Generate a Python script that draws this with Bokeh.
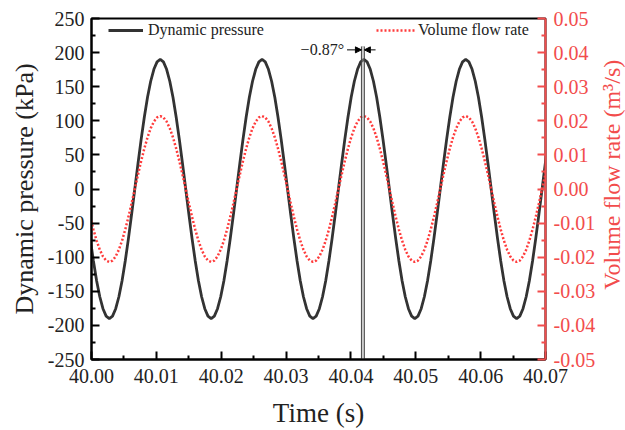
import math
from bokeh.plotting import figure
from bokeh.layouts import row
from bokeh.models import (Range1d, LinearAxis, Legend, LegendItem, Label,
                          Arrow, NormalHead, FixedTicker)
from bokeh.core.properties import value
from bokeh.embed import file_html
from bokeh.resources import INLINE

# ---- data -----------------------------------------------------------------
time_s = [
    39.999806, 40.000297, 40.000788, 40.001278, 40.001769, 40.002259, 40.002750, 40.003241,
    40.003731, 40.004222, 40.004713, 40.005203, 40.005694, 40.006184, 40.006675, 40.007166,
    40.007656, 40.008147, 40.008638, 40.009128, 40.009619, 40.010109, 40.010600, 40.011091,
    40.011581, 40.012072, 40.012563, 40.013053, 40.013544, 40.014034, 40.014525, 40.015016,
    40.015506, 40.015997, 40.016488, 40.016978, 40.017469, 40.017959, 40.018450, 40.018941,
    40.019431, 40.019922, 40.020413, 40.020903, 40.021394, 40.021884, 40.022375, 40.022866,
    40.023356, 40.023847, 40.024338, 40.024828, 40.025319, 40.025809, 40.026300, 40.026791,
    40.027281, 40.027772, 40.028263, 40.028753, 40.029244, 40.029734, 40.030225, 40.030716,
    40.031206, 40.031697, 40.032188, 40.032678, 40.033169, 40.033659, 40.034150, 40.034641,
    40.035131, 40.035622, 40.036113, 40.036603, 40.037094, 40.037584, 40.038075, 40.038566,
    40.039056, 40.039547, 40.040038, 40.040528, 40.041019, 40.041509, 40.042000, 40.042491,
    40.042981, 40.043472, 40.043963, 40.044453, 40.044944, 40.045434, 40.045925, 40.046416,
    40.046906, 40.047397, 40.047888, 40.048378, 40.048869, 40.049359, 40.049850, 40.050341,
    40.050831, 40.051322, 40.051813, 40.052303, 40.052794, 40.053284, 40.053775, 40.054266,
    40.054756, 40.055247, 40.055738, 40.056228, 40.056719, 40.057209, 40.057700, 40.058191,
    40.058681, 40.059172, 40.059663, 40.060153, 40.060644, 40.061134, 40.061625, 40.062116,
    40.062606, 40.063097, 40.063588, 40.064078, 40.064569, 40.065059, 40.065550, 40.066041,
    40.066531, 40.067022, 40.067513, 40.068003, 40.068494, 40.068984, 40.069475, 40.069966,
    40.070456,
]

pressure_kpa = [
    -72.7, -105.6, -134.4, -158.0, -175.5, -186.4,
    -190.0, -186.4, -175.5, -158.0, -134.4, -105.6, -72.7, -37.1, 0.0, 37.1, 72.7, 105.6,
    134.4, 158.0, 175.5, 186.4, 190.0, 186.4, 175.5, 158.0, 134.4, 105.6, 72.7, 37.1,
    0.0, -37.1, -72.7, -105.6, -134.4, -158.0, -175.5, -186.4,
    -190.0, -186.4, -175.5, -158.0, -134.4, -105.6, -72.7, -37.1, 0.0, 37.1, 72.7, 105.6,
    134.4, 158.0, 175.5, 186.4, 190.0, 186.4, 175.5, 158.0, 134.4, 105.6, 72.7, 37.1,
    0.0, -37.1, -72.7, -105.6, -134.4, -158.0, -175.5, -186.4,
    -190.0, -186.4, -175.5, -158.0, -134.4, -105.6, -72.7, -37.1, 0.0, 37.1, 72.7, 105.6,
    134.4, 158.0, 175.5, 186.4, 190.0, 186.4, 175.5, 158.0, 134.4, 105.6, 72.7, 37.1,
    0.0, -37.1, -72.7, -105.6, -134.4, -158.0, -175.5, -186.4,
    -190.0, -186.4, -175.5, -158.0, -134.4, -105.6, -72.7, -37.1, 0.0, 37.1, 72.7, 105.6,
    134.4, 158.0, 175.5, 186.4, 190.0, 186.4, 175.5, 158.0, 134.4, 105.6, 72.7, 37.1,
    0.0, -37.1, -72.7, -105.6, -134.4, -158.0, -175.5, -186.4,
    -190.0, -186.4, -175.5, -158.0, -134.4, -105.6, -72.7, -37.1, 0.0, 37.1, 72.7,
]

flow_m3s = [
    -0.00819, -0.01189, -0.01513, -0.01779, -0.01977, -0.02099,
    -0.02140, -0.02099, -0.01977, -0.01779, -0.01513, -0.01189, -0.00819, -0.00418, 0.0, 0.00418, 0.00819, 0.01189,
    0.01513, 0.01779, 0.01977, 0.02099, 0.02140, 0.02099, 0.01977, 0.01779, 0.01513, 0.01189, 0.00819, 0.00418,
    0.0, -0.00418, -0.00819, -0.01189, -0.01513, -0.01779, -0.01977, -0.02099,
    -0.02140, -0.02099, -0.01977, -0.01779, -0.01513, -0.01189, -0.00819, -0.00418, 0.0, 0.00418, 0.00819, 0.01189,
    0.01513, 0.01779, 0.01977, 0.02099, 0.02140, 0.02099, 0.01977, 0.01779, 0.01513, 0.01189, 0.00819, 0.00418,
    0.0, -0.00418, -0.00819, -0.01189, -0.01513, -0.01779, -0.01977, -0.02099,
    -0.02140, -0.02099, -0.01977, -0.01779, -0.01513, -0.01189, -0.00819, -0.00418, 0.0, 0.00418, 0.00819, 0.01189,
    0.01513, 0.01779, 0.01977, 0.02099, 0.02140, 0.02099, 0.01977, 0.01779, 0.01513, 0.01189, 0.00819, 0.00418,
    0.0, -0.00418, -0.00819, -0.01189, -0.01513, -0.01779, -0.01977, -0.02099,
    -0.02140, -0.02099, -0.01977, -0.01779, -0.01513, -0.01189, -0.00819, -0.00418, 0.0, 0.00418, 0.00819, 0.01189,
    0.01513, 0.01779, 0.01977, 0.02099, 0.02140, 0.02099, 0.01977, 0.01779, 0.01513, 0.01189, 0.00819, 0.00418,
    0.0, -0.00418, -0.00819, -0.01189, -0.01513, -0.01779, -0.01977, -0.02099,
    -0.02140, -0.02099, -0.01977, -0.01779, -0.01513, -0.01189, -0.00819, -0.00418, 0.0, 0.00418, 0.00819,
]

x_ticks = [40.00, 40.01, 40.02, 40.03, 40.04, 40.05, 40.06, 40.07]
x_tick_labels = ["40.00", "40.01", "40.02", "40.03", "40.04", "40.05", "40.06", "40.07"]
x_minor = [40.005, 40.015, 40.025, 40.035, 40.045, 40.055, 40.065]

p_ticks = [-250, -200, -150, -100, -50, 0, 50, 100, 150, 200, 250]
p_tick_labels = ["-250", "-200", "-150", "-100", "-50", "0", "50", "100", "150", "200", "250"]
p_minor = [-225, -175, -125, -75, -25, 25, 75, 125, 175, 225]

q_ticks = [-0.05, -0.04, -0.03, -0.02, -0.01, 0.0, 0.01, 0.02, 0.03, 0.04, 0.05]
q_tick_labels = ["-0.05", "-0.04", "-0.03", "-0.02", "-0.01", "0.00",
                 "0.01", "0.02", "0.03", "0.04", "0.05"]
q_minor = [-0.045, -0.035, -0.025, -0.015, -0.005, 0.005, 0.015, 0.025, 0.035, 0.045]

phase_marker_t = [40.04162, 40.04207]      # the two peak markers
phase_arrow_tail_t = [40.0394, 40.0438]
phase_marker_top_kpa = 209
phase_arrow_kpa = 204
phase_text = "\u22120.87\u00b0"

series_labels = ["Dynamic pressure", "Volume flow rate"]
right_title = "Volume flow rate (m\u00b3/s)"

# ---- styling ---------------------------------------------------------------
FONT = "Liberation Serif"
BLACK = "#333333"
RED = "#f24c4c"
RED_LINE = "#ff3b3b"
MAIN_W, SIDE_W, H = 598, 27, 430

p = figure(width=MAIN_W, height=H, output_backend="svg", toolbar_location=None,
           x_range=Range1d(40.0, 40.07), y_range=Range1d(-250, 250),
           min_border_left=91, min_border_right=50, min_border_top=18,
           min_border_bottom=69, background_fill_color="white",
           border_fill_color="white")
p.grid.visible = False
p.outline_line_color = "black"
p.outline_line_width = 2
p.outline_line_alpha = 1

p.extra_y_ranges = {"flow": Range1d(-0.05, 0.05)}

def style_axis(ax, color, text_color):
    ax.axis_line_color = color
    ax.axis_line_width = 2
    ax.major_tick_line_color = color
    ax.minor_tick_line_color = color
    ax.major_tick_line_width = 2
    ax.minor_tick_line_width = 2
    ax.major_tick_in = 8
    ax.major_tick_out = 0
    ax.minor_tick_in = 4
    ax.minor_tick_out = 0
    ax.major_label_text_font = FONT
    ax.major_label_text_font_size = "20px"
    ax.major_label_text_color = text_color
    ax.axis_label_text_font = FONT
    ax.axis_label_text_font_style = "normal"
    ax.axis_label_text_font_size = "26px"
    ax.axis_label_text_color = text_color

xa = p.xaxis[0]
style_axis(xa, "black", "#222222")
xa.ticker = FixedTicker(ticks=x_ticks, minor_ticks=x_minor)
xa.major_label_overrides = dict(zip(x_ticks, x_tick_labels))
xa.axis_label = "Time (s)"
xa.axis_label_text_font_size = "27px"
xa.major_label_standoff = 9
xa.axis_label_standoff = 12

ya = p.yaxis[0]
style_axis(ya, "black", "#222222")
ya.ticker = FixedTicker(ticks=p_ticks, minor_ticks=p_minor)
ya.major_label_overrides = dict(zip(p_ticks, p_tick_labels))
ya.axis_label = "Dynamic pressure (kPa)"
ya.major_label_standoff = 7
ya.axis_label_standoff = 6

ra = LinearAxis(y_range_name="flow")
style_axis(ra, RED, RED)
ra.ticker = FixedTicker(ticks=q_ticks, minor_ticks=q_minor)
ra.major_label_overrides = dict(zip(q_ticks, q_tick_labels))
ra.major_label_standoff = 8
p.add_layout(ra, "right")

# ---- series ----------------------------------------------------------------
r_p = p.line(time_s, pressure_kpa, line_color=BLACK, line_width=2.8)
r_q = p.line(time_s, flow_m3s, y_range_name="flow", line_color=RED_LINE,
             line_width=2.5, line_dash="2 2")

# ---- phase markers ---------------------------------------------------------
mid_t = (phase_marker_t[0] + phase_marker_t[1]) / 2
p.segment(x0=[mid_t], y0=[phase_marker_top_kpa], x1=[mid_t], y1=[-250],
          line_color="#9a9a9a", line_width=2, line_dash="1 1")
p.segment(x0=phase_marker_t, y0=[phase_marker_top_kpa] * 2, x1=phase_marker_t,
          y1=[-250] * 2, line_color="#444444", line_width=1)
p.add_layout(Arrow(end=NormalHead(size=6, fill_color="black", line_color="black"),
                   x_start=phase_arrow_tail_t[0], y_start=phase_arrow_kpa,
                   x_end=phase_marker_t[0], y_end=phase_arrow_kpa,
                   line_color="black", line_width=1))
p.add_layout(Arrow(end=NormalHead(size=6, fill_color="black", line_color="black"),
                   x_start=phase_arrow_tail_t[1], y_start=phase_arrow_kpa,
                   x_end=phase_marker_t[1], y_end=phase_arrow_kpa,
                   line_color="black", line_width=1))
p.add_layout(Label(x=phase_arrow_tail_t[0], y=phase_arrow_kpa, text=phase_text,
                   text_align="right", text_baseline="middle", x_offset=-3,
                   text_font=FONT, text_font_size="16px", text_color="#222222"))

# ---- legends ---------------------------------------------------------------
def make_legend(item, loc, gw, standoff):
    return Legend(items=[item], location=loc, orientation="horizontal",
                  glyph_width=gw, glyph_height=18, label_height=18,
                  label_standoff=standoff, padding=0, margin=0, spacing=0,
                  border_line_color=None, background_fill_alpha=0,
                  label_text_font=FONT, label_text_font_size="16px",
                  label_text_color="#222222")

p.add_layout(make_legend(LegendItem(label=series_labels[0], renderers=[r_p]),
                         (17, 320), 35, 5))
p.add_layout(make_legend(LegendItem(label=series_labels[1], renderers=[r_q]),
                         (285, 320), 39, 3))

# ---- right-hand title strip (reads bottom to top) -------------------------
side = figure(width=SIDE_W, height=H, output_backend="svg", toolbar_location=None,
              x_range=Range1d(0, SIDE_W), y_range=Range1d(0, H),
              x_axis_type=None, y_axis_type=None,
              min_border_left=0, min_border_right=0, min_border_top=0,
              min_border_bottom=0, background_fill_color="white",
              border_fill_color="white")
side.grid.visible = False
side.outline_line_color = None
side.text(x=[13.5], y=[233], text=[right_title], angle=math.pi / 2,
          text_align="center", text_baseline="middle",
          text_font=value(FONT), text_font_size=value("24px"), text_color=RED)

layout = row(p, side)
open("out.html", "w").write(file_html(layout, INLINE))
